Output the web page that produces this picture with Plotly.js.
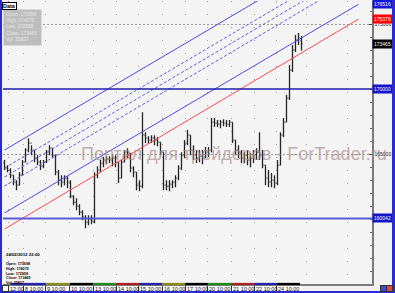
<!DOCTYPE html>
<html><head><meta charset="utf-8">
<script src="https://cdn.plot.ly/plotly-3.0.1.min.js"></script>
<style>
html,body{margin:0;padding:0;background:#f2f2f2;}
#wrap{position:relative;width:395px;height:293px;overflow:hidden;}
#chart{width:395px;height:293px;}
#frame{position:absolute;left:0;top:0;width:395px;height:293px;box-sizing:border-box;border-left:2px solid #2a2ad0;border-right:3px solid #2a2ad0;border-bottom:2px solid #2a2ad0;pointer-events:none;}
.sq{position:absolute;top:285px;width:5px;height:5px;border:1px solid #333;}
</style></head><body>
<div id="wrap"><div id="chart"></div><div id="frame"></div>
<div class="sq" style="left:2px;background:#ffffff;top:285px;width:5px;height:5px;"></div>
<div class="sq" style="left:380px;background:#4848d8;"></div>
<div class="sq" style="left:386px;background:#e04848;"></div>
</div>
<script>
// ---- data (price units as shown on the right scale) ----
const barOpen = [164300,163910,163760,163370,162830,162600,163370,164370,165300,165840,
165300,164680,164370,164060,164370,165140,165450,164910,163600,162990,
162830,163140,162830,161750,161290,160980,160520,160140,159750,159980,
159830,163370,163760,164300,164530,164600,164530,164680,164370,163140,
164370,165140,165070,163910,163600,162600,162520,166450,166220,166070,
166220,166070,165910,165140,162600,162520,162680,162830,163140,163910,
164910,165840,166450,165300,164910,164680,164830,164760,165140,165300,
167450,167380,167300,167450,167380,167300,167450,166070,165300,165140,
164680,164910,164530,164680,164910,165140,164910,164140,163140,162830,
162990,162760,164140,166450,167450,169300,171460,173000,173770,173698];
const barHigh = [164530,164140,163910,163370,162990,163600,164530,165450,166220,165680,
165300,164910,164530,164530,165300,165680,165450,164910,163760,163370,
163370,163290,162990,161830,161600,161140,160680,160290,160290,160290,
163600,164060,164530,164760,164830,164830,164910,164910,164370,164530,
165300,165450,165070,164060,163600,162990,168220,166680,166370,166450,
166450,166300,165910,165140,162990,162990,162990,163370,164140,165140,
166070,166840,166450,165680,165300,165300,165300,165530,165530,167760,
167760,167610,167610,167680,167610,167610,167450,166070,165680,165300,
165140,165300,165070,165300,165450,166680,165300,164140,163760,163530,
163370,164530,166680,167760,169530,171840,173380,174150,174310,174075];
const barLow = [163760,163600,163140,162600,162220,162600,163370,164370,165140,164910,
164370,164140,163760,163910,164300,164910,164680,163370,162600,162450,
162600,162370,161600,161060,160680,160290,159910,159290,159520,159600,
159680,163140,163600,163990,164220,164300,164060,163990,162760,163140,
164370,164680,163600,163220,162220,162140,162370,165840,165760,165840,
165680,165600,164910,162220,162220,162140,162370,162450,162990,163760,
164680,165680,164910,164530,164300,164370,164220,164680,164760,165140,
167070,167070,166990,167140,167070,167070,165840,164910,164680,164300,
164300,164140,163990,164300,164530,164530,163910,162600,162450,162450,
162370,162600,164140,166300,167450,169150,171300,172840,173380,172958];
const barClose = [163910,163760,163370,162830,162600,163370,164370,165300,165840,165300,
164680,164370,164060,164370,165140,165450,164910,163600,162990,162830,
163140,162830,161750,161290,160980,160520,160140,159750,159980,159830,
163370,163760,164300,164530,164600,164530,164680,164370,163140,164370,
165140,165070,163910,163600,162600,162520,166450,166220,166070,166220,
166070,165910,165140,162600,162520,162680,162830,163140,163910,164910,
165840,166450,165300,164910,164680,164830,164760,165140,165300,167450,
167380,167300,167450,167380,167300,167450,166070,165300,165140,164680,
164910,164530,164680,164910,165140,164910,164140,163140,162830,162990,
162760,164140,166450,167450,169300,171460,173000,173770,173920,173465];
const barVolume = 25837;
const barTimeLabel = '24/02/2012 23:00';

// channel lines: price at the first and at the last anchor bar
const chanBars = [0, 118];
const chanLowerBlue = [160462, 176516];
const chanUpperBlue = [165308, 181362];
const chanRed = [159231, 175379];
const chanDashA = [162539, 178593];
const chanDashB = [163231, 179285];
const chanDashC = [163923, 179977];

// horizontal levels
const levels = [170000, 160042];
const levelColors = ['#1e1ea8', '#5a5ad6'];

// axes
const priceTicks = [165000, 175000];
const timeTickPos = [1.2, 6.2, 13.8, 21.8, 29.5, 37.2, 44.8, 52.5, 60.2, 67.8, 75.5, 83.2, 90.8];
const timeTickText = ['12:00','8 10:00','9 10:00','10 10:00','13 10:00','14 10:00','15 10:00','16 10:00','17 10:00','20 10:00','21 10:00','22 10:00','24 10:00'];
const dayColors = ['#2424b0','#2424b0','#8c8c1c','#000000','#1c8c1c','#b02020','#2424b0','#8c8c1c','#000000','#1c8c1c','#b02020','#2424b0','#000000'];
const extraGridPos = [100.8, 114.2];

// ---- build ----
const FONT = 'Liberation Sans, Arial, sans-serif';
const barIndex = barClose.map((_, i) => i);
const lastBar = barIndex[barIndex.length - 1];

const traces = [{
  type: 'ohlc', x: barIndex, open: barOpen, high: barHigh, low: barLow, close: barClose,
  increasing: {line: {color: '#262626', width: 1.3}},
  decreasing: {line: {color: '#262626', width: 1.3}},
  tickwidth: 0.35, hoverinfo: 'skip', showlegend: false
}];
function chan(vals, color, dash) {
  traces.push({type: 'scatter', mode: 'lines', x: chanBars, y: vals,
    line: {color: color, width: 1, dash: dash}, hoverinfo: 'skip', showlegend: false});
}
chan(chanUpperBlue, '#4a4ae6', 'solid');
chan(chanDashA, '#5a5ae6', '3px,2px');
chan(chanDashB, '#5a5ae6', '3px,2px');
chan(chanDashC, '#5a5ae6', '3px,2px');
chan(chanLowerBlue, '#4a4ae6', 'solid');
chan(chanRed, '#ff4a4a', 'solid');

const shapes = [];
levels.forEach((lv, k) => shapes.push({type: 'line', xref: 'paper', x0: 0, x1: 1, yref: 'y', y0: lv, y1: lv,
  line: {color: levelColors[k], width: k === 0 ? 1.5 : 2}, layer: 'above'}));
// label strip and day colour bars under the time axis
shapes.push({type: 'rect', xref: 'x', x0: -0.5, x1: lastBar + 0.5, yref: 'paper', y0: -9/283, y1: 0,
  fillcolor: '#fbfbfb', line: {width: 0}, layer: 'below'});
timeTickPos.forEach((p, k) => {
  const x0 = k === 0 ? p + 0.8 : p;
  const x1 = k < timeTickPos.length - 1 ? timeTickPos[k + 1] : lastBar - 0.5;
  shapes.push({type: 'rect', xref: 'x', x0: x0, x1: x1, yref: 'paper', y0: -0.004, y1: 0.004,
    fillcolor: dayColors[k], line: {width: 0}, layer: 'above'});
});

const annotations = [];
// time labels, written to the right of their tick as in the reference
timeTickPos.forEach((p, k) => annotations.push({xref: 'x', x: p, xanchor: 'left', xshift: 0.5,
  yref: 'paper', y: 0, yanchor: 'top', yshift: -1.2, text: timeTickText[k], showarrow: false, borderpad: 0,
  font: {family: FONT, size: 5.5, color: '#111111'}}));

function priceTag(v, bg) {
  annotations.push({xref: 'paper', x: 1, xanchor: 'left', yref: 'y', y: v, yanchor: 'middle',
    text: String(v), showarrow: false, bgcolor: bg, borderpad: 1,
    font: {family: FONT, size: 5, color: '#ffffff'}});
}
priceTag(chanLowerBlue[1], '#1414d8');
priceTag(chanRed[1], '#ff0000');
priceTag(barClose[barClose.length - 1], '#000000');
priceTag(levels[0], '#1414c8');
priceTag(levels[1], '#1414c8');

const last = barClose.length - 1;
const infoText = 'Open: ' + barOpen[last] + '<br>High: ' + barHigh[last] + '<br>Low: ' + barLow[last] +
  '<br>Close: ' + barClose[last] + '<br>Vol: ' + barVolume;
annotations.push({xref: 'paper', x: 0, xanchor: 'left', yref: 'paper', y: (284 - 9) / 283, yanchor: 'top',
  text: infoText, showarrow: false, align: 'left', valign: 'top', width: 33, height: 31,
  bgcolor: '#bdbdbd', borderpad: 2, font: {family: FONT, size: 4.8, color: '#e8e8e8'}});
annotations.push({xref: 'paper', x: -0.003, xanchor: 'left', yref: 'paper', y: (284 - 1.5) / 283, yanchor: 'top',
  text: '<b>Data</b>', showarrow: false, bgcolor: '#ffffff', bordercolor: '#000000', borderwidth: 1, borderpad: 0,
  font: {family: FONT, size: 5.5, color: '#000000'}});
annotations.push({xref: 'paper', x: 0.003, xanchor: 'left', yref: 'paper', y: (284 - 254) / 283, yanchor: 'middle',
  text: '<b>' + barTimeLabel + '</b>', showarrow: false, font: {family: FONT, size: 4.3, color: '#000000'}});
annotations.push({xref: 'paper', x: 0.003, xanchor: 'left', yref: 'paper', y: (284 - 260) / 283, yanchor: 'top',
  text: '<b>' + infoText + '</b>', showarrow: false, align: 'left',
  font: {family: FONT, size: 3.7, color: '#000000'}});
annotations.push({xref: 'paper', x: (79 - 3) / 369, xanchor: 'left', yref: 'paper', y: (284 - 154) / 283, yanchor: 'middle',
  text: 'Портал для трейдеров - ForTrader.ru', showarrow: false,
  font: {family: FONT, size: 18, color: 'rgba(165,135,135,0.68)'}});

const layout = {
  width: 395, height: 293,
  margin: {l: 3, r: 23, t: 1, b: 9, pad: 0},
  paper_bgcolor: '#f2f2f2', plot_bgcolor: '#f4f4f4',
  showlegend: false, hovermode: false,
  font: {family: FONT},
  xaxis: {
    range: [-0.5, 122.5], tickmode: 'array', tickvals: timeTickPos, ticktext: timeTickText,
    showticklabels: false,
    ticks: 'outside', ticklen: 8, tickwidth: 1, tickcolor: '#333333',
    showgrid: true, gridcolor: '#9c9c9c', griddash: '1px,12px', gridwidth: 1,
    showline: true, linecolor: '#7a7a7a', linewidth: 1.5, zeroline: false,
    rangeslider: {visible: false}, fixedrange: true,
    minor: {tickmode: 'array', tickvals: extraGridPos, showgrid: true, gridcolor: '#9c9c9c', griddash: '1px,12px', ticks: ''}
  },
  yaxis: {
    side: 'right', range: [155000, 176769], tickmode: 'array', tickvals: priceTicks,
    ticktext: priceTicks.map(String),
    ticks: 'inside', ticklen: 3, tickcolor: '#444444',
    tickfont: {family: FONT, size: 5, color: '#222222'},
    showgrid: true, gridcolor: '#9a9a9a', griddash: '2px,2px', gridwidth: 1,
    showline: true, linecolor: '#7a7a7a', linewidth: 1.5, zeroline: false, fixedrange: true,
    minor: {dtick: 1000, ticks: 'inside', ticklen: 2, tickcolor: '#666666', showgrid: false}
  },
  shapes: shapes, annotations: annotations
};
Plotly.newPlot('chart', traces, layout, {staticPlot: true, displayModeBar: false});
</script>
</body></html>
